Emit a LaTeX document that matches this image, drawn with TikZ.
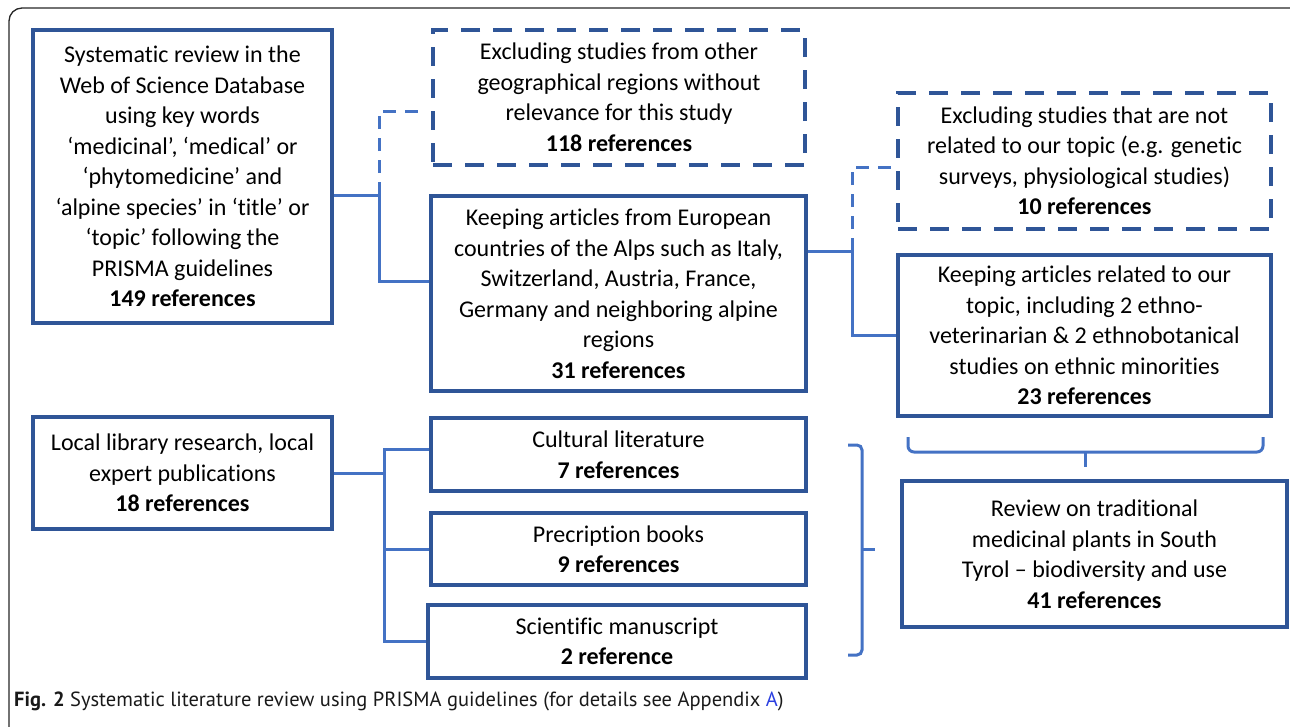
\documentclass[tikz,border=0pt]{standalone}
\usepackage{fontspec}
\setmainfont{Carlito}[Ligatures=NoCommon]
\newfontfamily\capfont{PT Sans}
\usetikzlibrary{calc}
\definecolor{boxblue}{HTML}{2F5597}
\definecolor{lineblue}{HTML}{4472C4}
\definecolor{refblue}{HTML}{2B3FE0}

\tikzset{
  box/.style={draw=boxblue, line width=4.6pt, align=center, inner sep=0pt,
    font=\fontsize{24}{30.5}\selectfont},
  dbox/.style={box, dash pattern=on 19pt off 13pt},
  link/.style={draw=lineblue, line width=3pt},
  dlink/.style={link, dash pattern=on 13pt off 9pt},
}

\begin{document}
\begin{tikzpicture}[x=1pt,y=-1pt]
    \useasboundingbox (0,0) rectangle (1290,726);
    \begin{scope}
      \clip (0,0) rectangle (1290,726);
      \draw[black!85, line width=1.3pt, rounded corners=13pt] (9,8) rectangle (1305,740);
    \end{scope}

    % first search
    \node[box, minimum width=299pt, minimum height=293pt] (sysrev) at (182.5,176.5)
      {Systematic review in the\\ Web of Science Database\\ using key words\\
       ‘medicinal’, ‘medical’ or\\ ‘phytomedicine’ and\\ ‘alpine species’ in ‘title’ or\\
       ‘topic’ following the\\ PRISMA guidelines\\ \textbf{149 references}};
    \node[dbox, minimum width=372pt, minimum height=135pt] (georeg) at (619,97.5)
      {Excluding studies from other\\ geographical regions without\\ relevance for this study\\ \textbf{118 references}};
    \node[box, minimum width=375pt, minimum height=195pt] (alps) at (618.5,293.5)
      {Keeping articles from European\\ countries of the Alps such as Italy,\\ Switzerland, Austria, France,\\
       Germany and neighboring alpine\\ regions\\ \textbf{31 references}};
    \node[dbox, minimum width=373pt, minimum height=136pt] (offtopic) at (1084.5,161)
      {Excluding studies that are not\\ related to our topic (e.g. genetic\\ surveys, physiological studies)\\ \textbf{10 references}};
    \node[box, minimum width=373pt, minimum height=161pt] (ontopic) at (1084.5,335.5)
      {Keeping articles related to our\\ topic, including 2 ethno-\\ veterinarian \& 2 ethnobotanical\\
       studies on ethnic minorities\\ \textbf{23 references}};

    % local sources
    \node[box, minimum width=299pt, minimum height=112pt] (library) at (182.5,473)
      {Local library research, local\\ expert publications\\ \textbf{18 references}};
    \node[box, minimum width=375pt, minimum height=73pt] (cultural) at (618.5,454.5)
      {Cultural literature\\ \textbf{7 references}};
    \node[box, minimum width=375pt, minimum height=72pt] (precript) at (618.5,549)
      {Precription books\\ \textbf{9 references}};
    \node[box, minimum width=378pt, minimum height=73pt] (manuscr) at (617,641.5)
      {Scientific manuscript\\ \textbf{2 reference}};
    \node[box, minimum width=385pt, minimum height=146pt] (review) at (1094.5,554)
      {Review on traditional\\ medicinal plants in South\\ Tyrol – biodiversity and use\\ \textbf{41 references}};

    % connectors
    \coordinate (j1) at (379,195);
    \coordinate (d1) at (418,111);
    \draw[link] (sysrev.east |- j1) -- (j1);
    \draw[link] (j1) |- ([yshift=12pt]alps.west);
    \draw[dlink] (j1) |- (d1);

    \coordinate (j2) at (852,251);
    \coordinate (d2) at (892,167);
    \draw[link] (alps.east |- j2) -- (j2);
    \draw[link] (j2) |- (ontopic.west);
    \draw[dlink] (j2) |- (d2);

    \coordinate (j3) at (384,473);
    \draw[link] (library.east) -- (j3);
    \draw[link] (cultural.west |- 0,449) -| (j3);
    \draw[link] (j3) |- (manuscr.west);
    \draw[link] (j3 |- precript.west) -- (precript.west);

    % braces
    \coordinate (bl) at (908,437);
    \coordinate (br) at (1263,437);
    \draw[link, rounded corners=6pt] (bl) -- (bl |- 0,452) -- (br |- 0,452) -- (br);
    \draw[link] (1085,452) -- (1085,467);
    \coordinate (vt) at (848,445);
    \coordinate (vb) at (848,655);
    \draw[link, rounded corners=5pt] (vt) -- (862,445) -- (862,655) -- (vb);
    \draw[link] (862,549) -- (875,549);

    \node[anchor=west, inner sep=0pt, font=\capfont\fontsize{20.5}{22}\selectfont, text=black!90] (caption) at (14,701)
      {\textbf{Fig. 2} Systematic literature review using PRISMA guidelines (for details see Appendix \textcolor{refblue}{A})};
\end{tikzpicture}
\end{document}
